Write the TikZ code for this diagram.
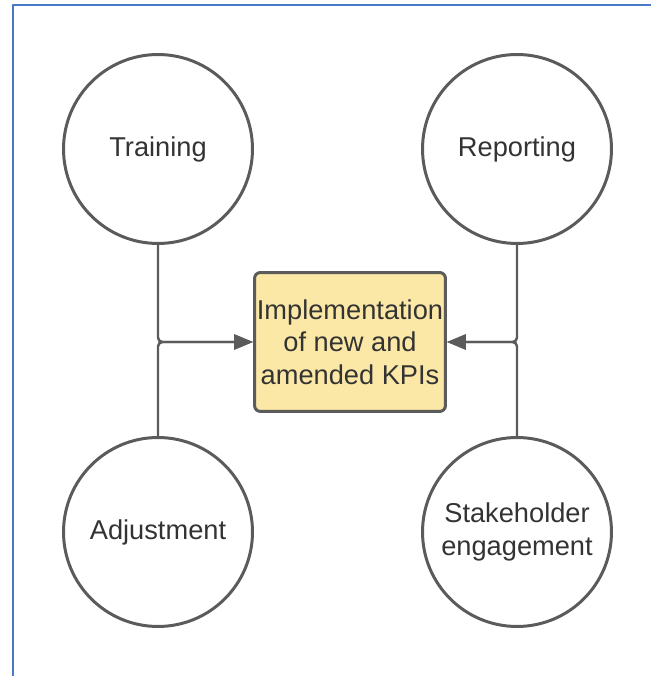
\documentclass[tikz,border=0pt]{standalone}
\usepackage{fontspec}
\setmainfont{Liberation Sans}
\usetikzlibrary{arrows.meta}
\definecolor{linegray}{HTML}{5B5B5B}
\definecolor{textgray}{HTML}{333333}
\definecolor{kpifill}{HTML}{FCE8A6}
\definecolor{frameblue}{HTML}{4A78C9}
\begin{document}
\begin{tikzpicture}[x=0.02cm, y=0.02cm, line join=round, >={Triangle[length=0.38cm, width=0.3cm]}, font=\fontsize{15.5}{18.5}\selectfont]
	\tikzset{circ/.style={circle, draw=linegray, line width=1.7pt, minimum size=3.78cm, inner sep=0pt, align=center, text=textgray},
		kpibox/.style={draw=linegray, fill=kpifill, line width=1.7pt, rounded corners=0.12cm, minimum width=3.82cm, minimum height=2.78cm, inner sep=0pt, align=center, text=textgray},
		link/.style={draw=linegray, line width=1.4pt, rounded corners=2.5pt, ->}}
	\useasboundingbox (0,0) rectangle (651,676);
	\fill[white] (0,0) rectangle (651,676);
	\draw[frameblue, line width=1.2pt] (13,0)--(13,671)--(651,671);
	\node[kpibox] (kpi) at (350,334) {Implementation\\of new and\\amended KPIs};
	\node[circ] (train) at (158,527) {Training};
	\node[circ] (report) at (517,527) {Reporting};
	\node[circ] (adjust) at (158,144) {Adjustment};
	\node[circ] (stake) at (517,144) {Stakeholder\\engagement};
	\draw[link] (train.south) |- (kpi.west);
	\draw[link] (adjust.north) |- (kpi.west);
	\draw[link] (report.south) |- (kpi.east);
	\draw[link] (stake.north) |- (kpi.east);
\end{tikzpicture}
\end{document}
